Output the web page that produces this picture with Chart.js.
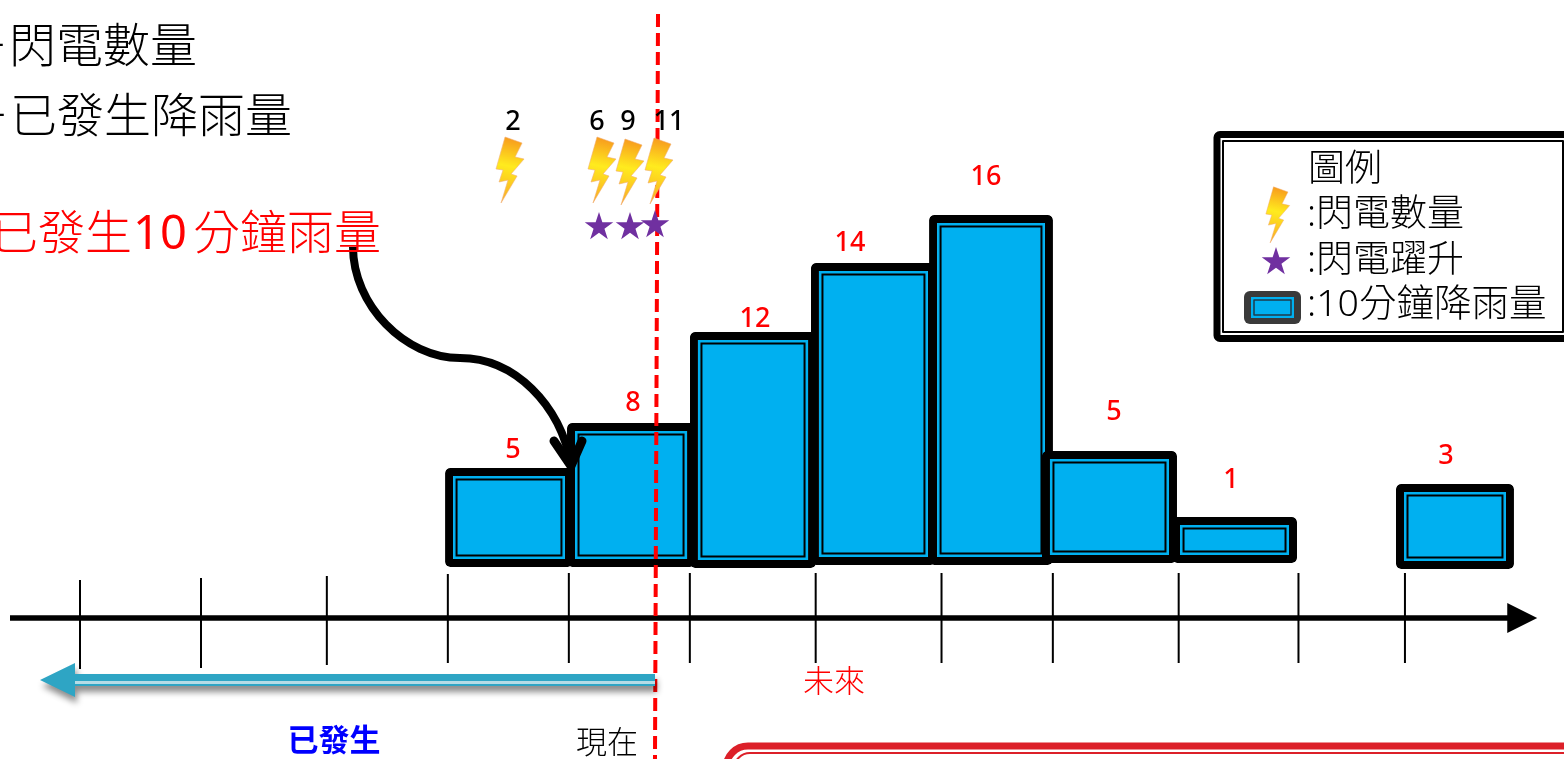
<!DOCTYPE html>
<html lang="zh-Hant">
<head>
<meta charset="utf-8">
<title>閃電數量與10分鐘降雨量</title>
<script src="https://cdn.jsdelivr.net/npm/chart.js@4"></script>
<style>
  html, body { margin: 0; padding: 0; background: #fff; overflow: hidden; }
  canvas { display: block; }
</style>
</head>
<body>
<canvas id="rainChart" width="1564" height="759"></canvas>
<script>
// time axis, in 10 minute slots as drawn (the drawing is not quite even)
const tickSlots = [0, 1, 2.04, 3.04, 4.04, 5.04, 6.08, 7.12, 8.04, 9.08, 10.07, 10.95];
const tickTops = [-0.85, -0.75, -0.65, -0.55, -0.5, -0.5, -0.5, -0.5, -0.5, -0.5, -0.5, -0.5];
const tickBottoms = [-5.3, -5.25, -5.1, -5, -5, -5, -5, -5, -5, -5, -5, -5];

// rain bars
const barStarts = [3.017, 4.025, 5.041, 6.041, 7.017, 7.95, 9.025, 10.876];
const barEnds = [4.074, 5.083, 6.083, 7.074, 8.041, 9.066, 10.058, 11.851];
const barBottoms = [-0.2, -0.2, -0.25, -0.1, -0.1, 0, 0, -0.3];
const barTops = [4.75, 7.0, 11.55, 15.0, 17.4, 5.6, 2.3, 3.95];

// numbers written over the bars
const rainLabels = ['5', '8', '12', '14', '16', '5', '1', '3'];
const rainLabelSlots = [3.579, 4.57, 5.579, 6.364, 7.488, 8.545, 9.512, 11.289];
const rainLabelHeights = [5.75, 8.1, 12.3, 16.1, 19.4, 7.65, 4.25, 5.45];

// lightning
const lightningCounts = ['2', '6', '9', '11'];
const countLabelSlots = [3.579, 4.273, 4.529, 4.868];
const countLabelHeights = [22.15, 22.15, 22.15, 22.15];
const boltSlots = [3.554, 4.314, 4.545, 4.785];
const boltHeights = [19.65, 19.65, 19.55, 19.6];
const jumpSlots = [4.289, 4.545, 4.752];
const jumpHeights = [16.85, 16.85, 16.95];

// "now" line and time arrow
const nowSlots = [4.777, 4.752];
const nowHeights = [27.45, -9.8];
const axisSlots = [-0.5785, 11.82];
const axisHeights = [-2.75, -2.75];

const CJK = '"Noto Sans", "Noto Sans CJK TC", sans-serif';

function makeBolt(scale) {
  const pts = [[9, 0], [26, 6], [19, 20], [28, 22], [15, 37], [21, 39], [5, 66], [12, 43], [3, 45], [7, 33], [0, 32]];
  const c = document.createElement('canvas');
  c.width = Math.ceil(30 * scale);
  c.height = Math.ceil(68 * scale);
  const g = c.getContext('2d');
  g.scale(scale, scale);
  g.translate(1, 1);
  const grad = g.createLinearGradient(22, 0, 8, 66);
  grad.addColorStop(0, '#F7941D');
  grad.addColorStop(0.45, '#FFEB1E');
  grad.addColorStop(1, '#F9A825');
  g.beginPath();
  pts.forEach((p, i) => (i ? g.lineTo(p[0], p[1]) : g.moveTo(p[0], p[1])));
  g.closePath();
  g.fillStyle = grad;
  g.fill();
  g.strokeStyle = 'rgba(240,170,110,0.7)';
  g.lineWidth = 0.8;
  g.stroke();
  return c;
}

function makeStar(r) {
  const c = document.createElement('canvas');
  c.width = c.height = r * 2 + 2;
  const g = c.getContext('2d');
  g.translate(r + 1, r + 2);
  g.beginPath();
  for (let i = 0; i < 10; i++) {
    const rad = i % 2 ? r * 0.382 : r;
    const a = -Math.PI / 2 + i * Math.PI / 5;
    const px = rad * Math.cos(a);
    const py = rad * Math.sin(a);
    i ? g.lineTo(px, py) : g.moveTo(px, py);
  }
  g.closePath();
  g.fillStyle = '#7030A0';
  g.fill();
  return c;
}

const boltImg = makeBolt(1);
const starImg = makeStar(15);
const legendBolt = makeBolt(0.85);

function roundRectPath(ctx, x, y, w, h, r) {
  ctx.beginPath();
  ctx.roundRect(x, y, w, h, r);
}

function text(ctx, str, x, y, font, color, align) {
  ctx.font = font;
  ctx.fillStyle = color;
  ctx.textAlign = align || 'left';
  ctx.textBaseline = 'middle';
  ctx.fillText(str, x, y + 2);
}

// bar widths differ per slot, so take each bar's edges from the x scale
const barEdges = {
  id: 'barEdges',
  afterDatasetsUpdate(chart) {
    const xs = chart.scales.x;
    chart.getDatasetMeta(0).data.forEach((el, i) => {
      const left = xs.getPixelForValue(barStarts[i]);
      const right = xs.getPixelForValue(barEnds[i]);
      el.x = (left + right) / 2;
      el.width = right - left;
    });
  },
  afterDatasetDraw(chart, args) {
    if (args.index !== 0) return;
    const ctx = chart.ctx;
    ctx.save();
    ctx.strokeStyle = '#000';
    ctx.lineWidth = 2;
    args.meta.data.forEach((el) => {
      const left = el.x - el.width / 2;
      const top = Math.min(el.y, el.base);
      const h = Math.abs(el.base - el.y);
      ctx.strokeRect(left + 11.5, top + 11.5, el.width - 23, h - 23);
    });
    ctx.restore();
  },
};

// texts, arrows, legend box and the frame at the bottom
const notes = {
  id: 'notes',
  afterDraw(chart) {
    const ctx = chart.ctx;
    const xs = chart.scales.x;
    const ys = chart.scales.y;
    ctx.save();

    // arrow head on the time axis
    const tipX = xs.getPixelForValue(axisSlots[1]);
    const tipY = ys.getPixelForValue(axisHeights[1]);
    ctx.fillStyle = '#000';
    ctx.beginPath();
    ctx.moveTo(tipX - 3, tipY - 15);
    ctx.lineTo(tipX + 27, tipY);
    ctx.lineTo(tipX - 3, tipY + 15);
    ctx.closePath();
    ctx.fill();

    // "past" arrow
    ctx.save();
    ctx.shadowColor = 'rgba(0,0,0,0.45)';
    ctx.shadowBlur = 6;
    ctx.shadowOffsetX = 2;
    ctx.shadowOffsetY = 6;
    ctx.fillStyle = '#2EA5C4';
    ctx.beginPath();
    ctx.moveTo(40, 680);
    ctx.lineTo(75, 663);
    ctx.lineTo(75, 674);
    ctx.lineTo(655, 674);
    ctx.lineTo(655, 686);
    ctx.lineTo(75, 686);
    ctx.lineTo(75, 697);
    ctx.closePath();
    ctx.fill();
    ctx.restore();
    ctx.fillStyle = '#B5DCE6';
    ctx.fillRect(75, 681, 580, 3);

    // curved arrow to the bar
    ctx.strokeStyle = '#000';
    ctx.lineWidth = 8;
    ctx.lineCap = 'butt';
    ctx.beginPath();
    ctx.moveTo(353, 247);
    ctx.bezierCurveTo(353, 305, 405, 358, 460, 358);
    ctx.bezierCurveTo(515, 358, 560, 405, 571, 464);
    ctx.stroke();
    ctx.lineWidth = 9;
    ctx.lineCap = 'round';
    ctx.lineJoin = 'round';
    ctx.beginPath();
    ctx.moveTo(554, 441);
    ctx.lineTo(571, 466);
    ctx.lineTo(582, 441);
    ctx.stroke();

    // lightning counts and rain values
    lightningCounts.forEach((t, i) => {
      text(ctx, t, xs.getPixelForValue(countLabelSlots[i]), ys.getPixelForValue(countLabelHeights[i]), '500 27px ' + CJK, '#000', 'center');
    });
    rainLabels.forEach((t, i) => {
      text(ctx, t, xs.getPixelForValue(rainLabelSlots[i]), ys.getPixelForValue(rainLabelHeights[i]), '500 27px ' + CJK, '#FF0000', 'center');
    });

    // heading texts, cut off at the left edge like the source
    text(ctx, '＋閃電數量', 197, 47, '300 47px ' + CJK, '#000', 'right');
    text(ctx, '＋已發生降雨量', 292, 117, '300 47px ' + CJK, '#000', 'right');
    text(ctx, '分鐘雨量', 381, 234, '300 47px ' + CJK, '#FF0000', 'right');
    text(ctx, '10', 160, 234, '47px ' + CJK, '#FF0000', 'center');
    text(ctx, '已發生', 132, 234, '300 47px ' + CJK, '#FF0000', 'right');
    text(ctx, '未來', 834, 681, '300 31px ' + CJK, '#FF0000', 'center');
    text(ctx, '已發生', 334, 740, 'bold 31px ' + CJK, '#0000FF', 'center');
    text(ctx, '現在', 607, 742, '300 31px ' + CJK, '#000', 'center');

    // legend box
    ctx.lineCap = 'butt';
    ctx.lineJoin = 'round';
    ctx.fillStyle = '#fff';
    ctx.strokeStyle = '#000';
    ctx.lineWidth = 7;
    roundRectPath(ctx, 1217, 134.5, 360, 204, 3);
    ctx.fill();
    ctx.stroke();
    ctx.lineWidth = 2;
    ctx.strokeRect(1223, 141, 340, 191);
    text(ctx, '圖例', 1308, 168, '300 37px ' + CJK, '#000');
    text(ctx, ':閃電數量', 1307, 213, '300 37px ' + CJK, '#000');
    text(ctx, ':閃電躍升', 1307, 259, '300 37px ' + CJK, '#000');
    text(ctx, ':10分鐘降雨量', 1307, 303, '300 37.5px ' + CJK, '#000');
    ctx.drawImage(legendBolt, 1265, 186);
    ctx.drawImage(starImg, 1260, 245);

    // rain icon in the legend
    ctx.fillStyle = '#3A3A3A';
    roundRectPath(ctx, 1244, 291, 57, 33, 6);
    ctx.fill();
    ctx.fillStyle = '#00B0F0';
    ctx.fillRect(1251, 297, 43, 21);
    ctx.strokeStyle = '#1F3A4A';
    ctx.lineWidth = 1.5;
    ctx.strokeRect(1254, 300, 37, 15);

    // frame at the bottom right, only its top shows
    ctx.strokeStyle = '#DC2029';
    ctx.lineWidth = 7;
    roundRectPath(ctx, 726, 746, 900, 100, 22);
    ctx.stroke();
    ctx.lineWidth = 2;
    roundRectPath(ctx, 734, 753, 900, 100, 16);
    ctx.stroke();

    ctx.restore();
  },
};

const tickPoints = tickSlots.flatMap((s, i) => [
  { x: s, y: tickTops[i] },
  { x: s, y: tickBottoms[i] },
  { x: s, y: NaN },
]);

new Chart(document.getElementById('rainChart').getContext('2d'), {
  type: 'bar',
  data: {
    datasets: [
      {
        label: '10分鐘降雨量',
        order: 5,
        data: barStarts.map((s, i) => ({ x: (s + barEnds[i]) / 2, y: [barBottoms[i], barTops[i]] })),
        backgroundColor: '#00B0F0',
        borderColor: '#000',
        borderWidth: 8,
        borderRadius: 5,
        borderSkipped: false,
      },
      {
        type: 'line',
        label: '時間刻度',
        order: 4,
        data: tickPoints,
        borderColor: '#000',
        borderWidth: 2,
        pointRadius: 0,
        spanGaps: false,
      },
      {
        type: 'line',
        label: '時間軸',
        order: 4,
        data: axisSlots.map((s, i) => ({ x: s, y: axisHeights[i] })),
        borderColor: '#000',
        borderWidth: 5.5,
        pointRadius: 0,
      },
      {
        type: 'line',
        label: '現在',
        order: 3,
        data: nowSlots.map((s, i) => ({ x: s, y: nowHeights[i] })),
        borderColor: '#FF0000',
        borderWidth: 4,
        borderDash: [13, 6],
        pointRadius: 0,
      },
      {
        type: 'scatter',
        label: '閃電數量',
        order: 2,
        data: boltSlots.map((s, i) => ({ x: s, y: boltHeights[i] })),
        pointStyle: boltImg,
      },
      {
        type: 'scatter',
        label: '閃電躍升',
        order: 1,
        data: jumpSlots.map((s, i) => ({ x: s, y: jumpHeights[i] })),
        pointStyle: starImg,
      },
    ],
  },
  options: {
    responsive: false,
    animation: false,
    events: [],
    layout: { padding: 0, autoPadding: false },
    plugins: {
      legend: { display: false },
      title: { display: false },
      tooltip: { enabled: false },
    },
    scales: {
      x: { type: 'linear', offset: false, min: -80 / 121, max: 1484 / 121, display: false },
      y: { type: 'linear', min: -9.8, max: 28.15, display: false },
    },
  },
  plugins: [barEdges, notes],
});
</script>
</body>
</html>
